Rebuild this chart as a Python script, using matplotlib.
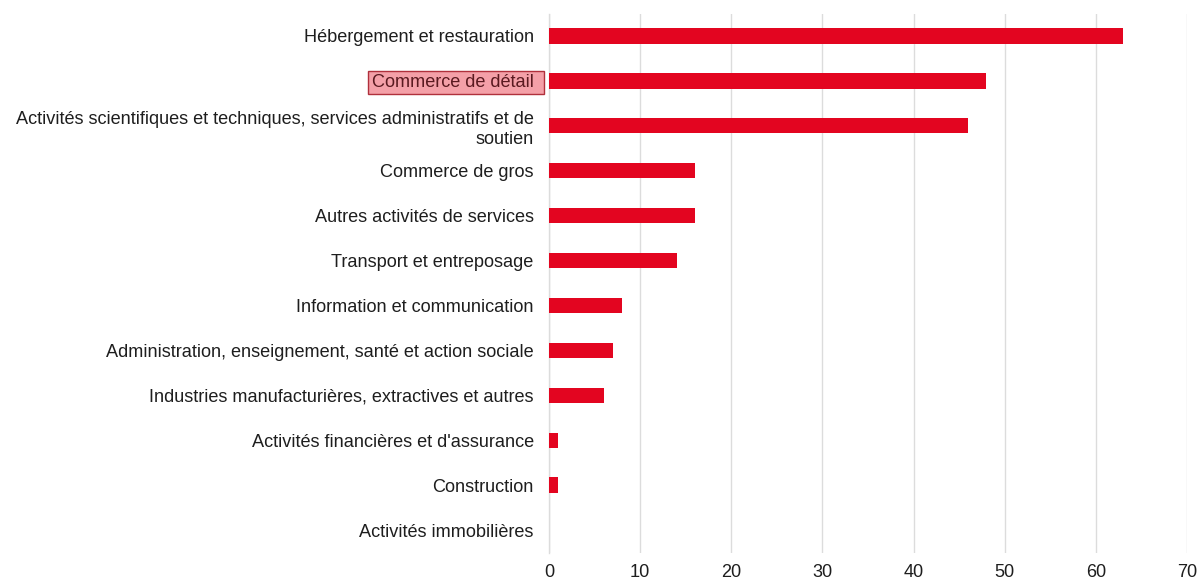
import matplotlib
matplotlib.use("Agg")
import matplotlib.pyplot as plt
from matplotlib.patches import Rectangle

categories = [
    "Hébergement et restauration",
    "Commerce de détail",
    "Activités scientifiques et techniques, services administratifs et de\nsoutien",
    "Commerce de gros",
    "Autres activités de services",
    "Transport et entreposage",
    "Information et communication",
    "Administration, enseignement, santé et action sociale",
    "Industries manufacturières, extractives et autres",
    "Activités financières et d'assurance",
    "Construction",
    "Activités immobilières",
]
values = [63, 48, 46, 16, 16, 14, 8, 7, 6, 1, 1, 0]
xticks = [0, 10, 20, 30, 40, 50, 60, 70]
highlight = "Commerce de détail"

plt.rcParams['font.family'] = ['Liberation Sans', 'DejaVu Sans']

fig = plt.figure(figsize=(12, 5.83), dpi=100)
ax = fig.add_axes([549/1200, 1 - 552.5/583, (1187-549)/1200, (552.5-13.5)/583])

y = list(range(len(categories)))
ax.barh(y, values, height=0.34, color="#e30520", linewidth=0, zorder=3)
ax.set_ylim(len(categories) - 0.5, -0.5)
ax.set_xlim(0, 70)
ax.set_xticks(xticks)
ax.set_yticks(y)
ax.set_yticklabels(categories, fontsize=13.1, color="#1e1e1e", linespacing=1.22)
ax.tick_params(axis='y', length=0, pad=11)
ax.tick_params(axis='x', length=0, pad=8, labelsize=13.1, labelcolor="#1e1e1e")
ax.grid(axis='x', color="#dcdcdc", linewidth=1, zorder=0)
ax.set_axisbelow(True)
for s in ["top", "right", "bottom"]:
    ax.spines[s].set_visible(False)
ax.spines["left"].set_color("#dcdcdc")
ax.spines["left"].set_linewidth(1)

fig.canvas.draw()
renderer = fig.canvas.get_renderer()
for lab in ax.get_yticklabels():
    if lab.get_text() == highlight:
        lab.set_color("#5a1a20")
        bb = lab.get_window_extent(renderer)
        rect = Rectangle((bb.x0 - 4, bb.y0 - 3), bb.width + 14, bb.height + 6,
                         transform=None, facecolor="#f4a0a8", edgecolor="#b0303c",
                         linewidth=1, zorder=-1)
        fig.patches.append(rect)

fig.savefig("out.png", dpi=100)
